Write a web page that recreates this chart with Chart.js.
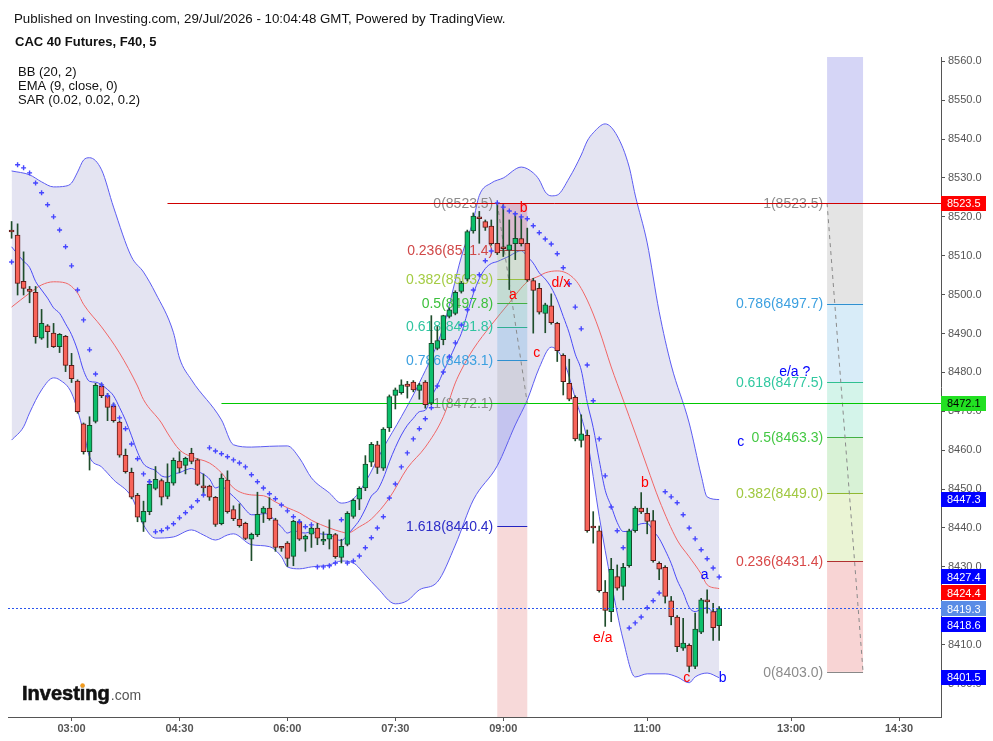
<!DOCTYPE html>
<html>
<head>
<meta charset="utf-8">
<title>CAC 40 Futures, F40, 5</title>
<script src="https://cdn.jsdelivr.net/npm/chart.js"></script>
<style>
  html, body { margin: 0; padding: 0; background: #fff; }
  canvas { display: block; }
</style>
</head>
<body>
<canvas id="chart" width="993" height="741"></canvas>
<script>
// 5-minute candles, first one at 02:10
const firstCandle = '02:10';
const candleStep = 5;

const opens = [
  8516.3, 8515.3, 8503.4, 8501.4, 8500.6, 8488.8, 8492.0, 8490.1, 8486.6, 8489.3,
  8481.8, 8477.8, 8466.8, 8459.6, 8467.4, 8476.4, 8473.9, 8471.3, 8467.2, 8458.7,
  8454.3, 8448.4, 8441.5, 8444.2, 8450.2, 8452.2, 8448.1, 8451.5, 8457.2, 8456.1,
  8459.2, 8457.5, 8450.5, 8450.8, 8447.9, 8441.1, 8452.3, 8444.7, 8442.3, 8441.2,
  8437.1, 8438.3, 8443.8, 8445.1, 8442.1, 8435.0, 8436.1, 8432.7, 8441.5, 8437.1,
  8438.4, 8440.0, 8436.6, 8437.1, 8438.3, 8432.4, 8435.8, 8443.0, 8447.4, 8450.3,
  8456.9, 8461.4, 8455.4, 8465.7, 8474.1, 8474.8, 8477.0, 8477.5, 8475.4, 8477.5,
  8472.1, 8486.2, 8488.4, 8494.4, 8495.2, 8500.8, 8504.0, 8516.4, 8519.7, 8518.8,
  8517.6, 8513.2, 8512.0, 8511.4, 8513.1, 8514.4, 8513.2, 8503.6, 8501.6, 8495.2,
  8497.1, 8492.6, 8484.4, 8477.2, 8473.6, 8462.5, 8463.8, 8440.4, 8439.3, 8423.5,
  8418.5, 8427.5, 8425.0, 8430.3, 8439.3, 8445.1, 8443.8, 8441.9, 8430.9, 8429.9,
  8421.3, 8417.1, 8409.1, 8409.8, 8404.4, 8413.2, 8421.2, 8418.5, 8414.9
];
const highs = [
  8518.8, 8518.2, 8511.0, 8502.1, 8502.1, 8496.2, 8492.3, 8492.6, 8490.0, 8489.5,
  8484.9, 8478.1, 8467.0, 8468.6, 8477.2, 8477.2, 8474.6, 8472.1, 8467.5, 8460.3,
  8455.4, 8448.9, 8446.9, 8452.4, 8455.8, 8452.6, 8456.5, 8458.0, 8459.6, 8458.2,
  8460.5, 8457.8, 8453.9, 8451.0, 8448.1, 8453.9, 8454.7, 8445.7, 8446.2, 8441.5,
  8438.7, 8449.2, 8445.5, 8447.8, 8442.5, 8435.2, 8436.5, 8442.0, 8442.1, 8438.2,
  8440.4, 8441.2, 8439.0, 8442.1, 8438.6, 8437.1, 8444.2, 8447.5, 8450.6, 8458.6,
  8462.0, 8462.3, 8465.8, 8474.2, 8476.0, 8478.1, 8477.7, 8477.9, 8477.2, 8477.9,
  8494.6, 8491.8, 8494.7, 8496.5, 8501.0, 8503.4, 8516.6, 8521.0, 8521.4, 8519.2,
  8519.2, 8523.5, 8523.1, 8519.2, 8521.0, 8520.1, 8517.1, 8504.2, 8502.9, 8497.8,
  8500.2, 8492.9, 8484.8, 8483.4, 8474.0, 8469.1, 8465.2, 8444.2, 8440.5, 8426.5,
  8432.2, 8430.5, 8430.9, 8439.7, 8445.5, 8449.1, 8445.1, 8444.5, 8431.3, 8430.3,
  8422.4, 8417.5, 8416.8, 8410.2, 8418.1, 8421.9, 8424.1, 8420.6, 8419.8
];
const lows = [
  8514.5, 8499.9, 8499.9, 8497.9, 8487.5, 8488.5, 8486.4, 8486.4, 8485.1, 8480.2,
  8477.4, 8469.5, 8459.0, 8454.9, 8467.0, 8473.5, 8467.6, 8467.2, 8458.2, 8454.1,
  8447.5, 8441.6, 8439.1, 8443.4, 8449.8, 8445.9, 8447.5, 8451.0, 8454.2, 8453.9,
  8456.5, 8450.9, 8448.5, 8447.1, 8440.4, 8440.8, 8443.8, 8441.9, 8440.2, 8437.0,
  8431.6, 8437.8, 8441.4, 8442.0, 8434.0, 8434.0, 8430.1, 8430.3, 8436.8, 8434.0,
  8435.0, 8435.7, 8435.7, 8434.6, 8432.2, 8431.0, 8435.4, 8442.5, 8444.7, 8449.6,
  8455.8, 8454.0, 8454.8, 8464.8, 8470.6, 8474.4, 8473.4, 8475.0, 8473.1, 8470.8,
  8471.7, 8485.8, 8487.1, 8494.0, 8494.8, 8500.4, 8503.5, 8515.8, 8513.2, 8516.5,
  8512.7, 8510.3, 8509.8, 8501.3, 8509.0, 8512.5, 8503.4, 8490.1, 8495.0, 8490.2,
  8492.4, 8482.8, 8474.2, 8472.7, 8462.4, 8460.8, 8438.9, 8436.1, 8423.5, 8414.7,
  8415.9, 8424.0, 8421.5, 8429.9, 8438.9, 8443.7, 8438.5, 8431.2, 8426.7, 8420.7,
  8415.1, 8408.2, 8408.5, 8403.0, 8403.8, 8412.8, 8418.1, 8411.1, 8411.1
];
const closes = [
  8516.1, 8502.9, 8501.6, 8500.8, 8489.2, 8492.6, 8490.5, 8486.6, 8489.8, 8481.8,
  8478.4, 8469.9, 8459.6, 8466.4, 8476.7, 8474.0, 8471.0, 8467.6, 8458.7, 8454.5,
  8447.9, 8442.8, 8444.3, 8451.2, 8452.5, 8447.9, 8451.8, 8457.4, 8455.4, 8457.9,
  8457.1, 8451.2, 8450.3, 8447.9, 8440.9, 8452.8, 8444.2, 8442.4, 8440.6, 8437.3,
  8438.4, 8443.5, 8445.1, 8442.4, 8435.0, 8434.8, 8432.2, 8441.7, 8437.1, 8437.9,
  8440.0, 8437.4, 8437.1, 8438.4, 8432.6, 8435.3, 8443.8, 8447.1, 8450.2, 8456.4,
  8461.5, 8455.6, 8465.4, 8473.8, 8475.5, 8476.8, 8476.4, 8475.5, 8476.8, 8471.7,
  8487.5, 8488.2, 8494.6, 8496.1, 8500.6, 8503.0, 8516.2, 8520.2, 8519.5, 8517.3,
  8513.1, 8510.7, 8511.8, 8512.8, 8514.5, 8513.1, 8503.8, 8501.1, 8495.5, 8497.4,
  8492.8, 8485.6, 8477.6, 8473.1, 8462.9, 8464.2, 8439.3, 8440.0, 8423.9, 8418.8,
  8429.4, 8424.5, 8429.9, 8439.3, 8445.1, 8444.1, 8441.7, 8431.6, 8429.4, 8422.4,
  8417.2, 8409.5, 8410.4, 8404.4, 8414.0, 8421.5, 8421.0, 8414.4, 8419.3
];

// SAR (0.02, 0.02, 0.2), one dot per candle
const sar = [
  8508.4, 8533.4, 8532.6, 8531.3, 8528.7, 8526.2, 8523.1, 8520.0, 8516.6, 8512.3,
  8507.4, 8501.2, 8493.5, 8485.8, 8479.6, 8476.8, 8474.0, 8471.6, 8468.3, 8465.5,
  8461.6, 8457.8, 8453.9, 8451.9, 8439.0, 8439.3, 8440.0, 8441.1, 8442.6, 8443.9,
  8445.4, 8447.0, 8448.5, 8460.6, 8459.8, 8459.1, 8458.3, 8457.5, 8456.7, 8455.7,
  8453.7, 8451.9, 8450.3, 8448.8, 8447.5, 8445.9, 8444.4, 8442.9, 8441.6, 8440.3,
  8440.8, 8430.0, 8430.0, 8430.3, 8431.0, 8442.1, 8431.0, 8431.5, 8432.8, 8434.9,
  8437.5, 8440.0, 8442.9, 8447.7, 8451.3, 8455.7, 8459.3, 8462.9, 8465.5, 8468.1,
  8470.9, 8476.5, 8480.1, 8484.0, 8487.6, 8492.2, 8496.1, 8501.2, 8505.1, 8508.7,
  8511.2, 8523.6, 8522.5, 8521.5, 8520.8, 8520.0, 8519.5, 8517.7, 8515.9, 8514.3,
  8513.0, 8510.5, 8506.9, 8502.8, 8496.8, 8491.2, 8481.9, 8472.7, 8462.9, 8453.4,
  8445.4, 8439.3, 8434.9, 8414.3, 8415.6, 8417.1, 8419.5, 8421.3, 8423.3, 8449.3,
  8448.0, 8446.5, 8443.4, 8440.0, 8437.2, 8434.4, 8432.1, 8429.7, 8427.4
];

// EMA (9, close, 0), one value per candle
const ema9 = [
  8512.3, 8510.4, 8508.6, 8507.0, 8503.4, 8501.2, 8499.1, 8496.6, 8495.2, 8492.5,
  8489.7, 8485.7, 8480.5, 8477.7, 8477.5, 8476.8, 8475.6, 8474.0, 8471.0, 8467.7,
  8463.7, 8459.5, 8456.5, 8455.4, 8454.8, 8453.4, 8453.1, 8453.9, 8454.2, 8454.9,
  8455.3, 8454.6, 8453.8, 8452.6, 8450.3, 8450.8, 8449.5, 8448.1, 8446.6, 8444.7,
  8443.4, 8443.4, 8443.7, 8443.4, 8441.7, 8440.3, 8438.7, 8439.3, 8438.9, 8438.7,
  8439.0, 8438.7, 8438.4, 8438.4, 8437.2, 8436.8, 8438.2, 8440.0, 8442.0, 8444.9,
  8448.2, 8449.7, 8452.8, 8457.0, 8460.7, 8463.9, 8466.4, 8468.2, 8469.9, 8470.3,
  8473.7, 8476.6, 8480.2, 8483.4, 8486.8, 8490.0, 8495.2, 8500.2, 8504.1, 8506.7,
  8508.0, 8508.5, 8509.2, 8509.9, 8510.8, 8511.3, 8509.8, 8508.1, 8505.6, 8504.0,
  8501.8, 8498.6, 8494.4, 8490.1, 8484.7, 8480.6, 8472.3, 8465.8, 8457.4, 8449.7,
  8445.6, 8441.4, 8439.1, 8439.1, 8440.3, 8441.1, 8441.2, 8439.3, 8437.3, 8434.3,
  8430.9, 8426.6, 8423.4, 8419.6, 8418.5, 8419.1, 8419.5, 8418.5, 8418.6
];

// BB (20, 2) read at sample candles (candle index, value)
const bbUpperAt = [0, 3, 5, 7, 9, 10, 11, 12, 13, 15, 17, 20, 22, 24, 27, 28, 30, 35, 37, 40,
  43, 46, 48, 50, 53, 55, 57, 59, 62, 65, 68, 72, 75, 77, 78, 80, 82, 85, 87, 88,
  89, 90, 91, 93, 95, 96, 97, 99, 101, 103, 104, 106, 108, 110, 113, 115, 116, 118];
const bbUpper = [8531.8, 8530.8, 8529.0, 8527.7, 8527.9, 8528.7, 8531.5, 8534.6, 8535.2, 8532.1,
  8522.5, 8509.7, 8505.8, 8500.4, 8490.2, 8483.7, 8478.1, 8467.8, 8461.4, 8460.8,
  8461.0, 8461.1, 8458.0, 8452.9, 8449.0, 8446.4, 8447.5, 8451.8, 8460.6, 8468.6,
  8477.3, 8491.7, 8509.7, 8519.2, 8525.5, 8528.7, 8530.0, 8532.8, 8531.3, 8529.5,
  8526.4, 8525.4, 8525.6, 8530.0, 8535.9, 8539.5, 8541.6, 8543.9, 8540.8, 8532.8,
  8525.6, 8513.3, 8495.6, 8481.9, 8467.0, 8453.6, 8448.0, 8447.3];

const bbBasisAt = [0, 3, 5, 7, 9, 11, 12, 15, 18, 21, 22, 25, 26, 28, 30, 33, 35, 37, 40, 42,
  44, 46, 48, 50, 53, 55, 56, 58, 60, 63, 66, 69, 72, 74, 75, 77, 80, 83, 86, 88,
  89, 91, 94, 96, 98, 100, 102, 104, 106, 108, 111, 113, 115, 116, 118];
const bbBasis = [8496.8, 8500.4, 8502.5, 8503.3, 8503.0, 8500.4, 8497.5, 8491.7, 8485.0, 8476.5,
  8473.0, 8467.0, 8464.4, 8460.1, 8458.3, 8456.7, 8454.2, 8450.3, 8448.5, 8448.3,
  8446.7, 8445.2, 8443.9, 8442.0, 8440.0, 8439.0, 8438.7, 8440.3, 8442.3, 8447.7,
  8455.4, 8460.8, 8468.6, 8477.3, 8480.6, 8486.0, 8492.2, 8497.9, 8503.3, 8504.8,
  8505.6, 8506.1, 8503.8, 8498.6, 8490.9, 8481.4, 8472.9, 8464.4, 8455.7, 8447.2,
  8436.9, 8432.6, 8428.2, 8425.4, 8424.4];

const bbLowerAt = [0, 2, 3, 5, 7, 8, 10, 12, 13, 15, 17, 20, 22, 24, 27, 30, 32, 34, 36, 37,
  40, 43, 45, 46, 48, 50, 53, 55, 57, 59, 61, 64, 66, 68, 71, 74, 77, 81, 84, 86,
  88, 90, 92, 94, 96, 98, 100, 102, 104, 106, 109, 111, 113, 114, 116, 118];
const bbLower = [8462.6, 8466.0, 8469.6, 8475.5, 8478.6, 8478.1, 8474.7, 8464.7, 8458.3, 8455.7,
  8452.4, 8448.0, 8440.8, 8437.4, 8437.7, 8439.5, 8438.2, 8436.9, 8438.2, 8438.5,
  8435.7, 8435.2, 8432.6, 8430.0, 8429.5, 8430.0, 8430.5, 8431.5, 8431.0, 8427.9,
  8424.6, 8420.5, 8421.3, 8424.1, 8426.1, 8435.6, 8447.2, 8456.0, 8466.5, 8472.9,
  8481.2, 8486.5, 8483.2, 8473.4, 8462.6, 8443.0, 8426.0, 8411.2, 8401.7, 8402.5,
  8402.5, 8401.7, 8400.2, 8401.7, 8402.7, 8401.5];

// axes
const xTickLabels = ['03:00', '04:30', '06:00', '07:30', '09:00', '11:00', '13:00', '14:30'];
const xRange = ['02:07', '15:05'];
const yRange = [8391.4, 8561.1];
const yStep = 10;

// fibonacci tools
const fibLeftRatios = ['0', '0.236', '0.382', '0.5', '0.618', '0.786', '1', '1.618'];
const fibLeftLevels = [8523.5, 8511.4, 8503.9, 8497.8, 8491.8, 8483.1, 8472.1, 8440.4];
const fibLeftSpan = ['08:55', '09:20'];
const fibRightRatios = ['1', '0.786', '0.618', '0.5', '0.382', '0.236', '0'];
const fibRightLevels = [8523.5, 8497.7, 8477.5, 8463.3, 8449.0, 8431.4, 8403.0];
const fibRightSpan = ['13:30', '14:00'];

// horizontal lines and price scale markers
const hLineValues = [8523.5, 8472.1];
const hLineFrom = ['04:20', '05:05'];
const lastPrice = 8419.3;
const markerValues = [8523.5, 8472.1, 8447.3, 8427.4, 8424.4, 8419.3, 8418.6, 8401.5];

// wave labels
const waveTexts = ['b', 'a', 'd/x', 'c', 'b', 'e/a', 'c', 'a', 'b', 'e/a ?', 'c'];
const waveTimes = ['09:17', '09:08', '09:48', '09:28', '10:58', '10:23', '11:33', '11:48', '12:03', '13:03', '12:18'];
const wavePrices = [8522.3, 8499.9, 8503.0, 8485.0, 8451.6, 8411.7, 8401.5, 8427.9, 8401.5, 8480.1, 8462.1];

// ---- styles ----
const FONT = '"Liberation Sans", Arial, sans-serif';
const upFill = '#0cbf6c', upEdge = '#17492a';
const downFill = '#f8645a', downEdge = '#5e1a18';
const wickColor = '#1e4d2b';
const fibLeftFill = ['rgba(190,70,110,0.26)', 'rgba(150,200,100,0.22)', 'rgba(80,190,100,0.22)',
  'rgba(60,180,170,0.22)', 'rgba(80,160,220,0.25)', 'rgba(150,150,160,0.25)',
  'rgba(100,100,230,0.25)', 'rgba(220,80,80,0.22)'];
const fibLeftLine = ['#888888', '#b04040', '#99c040', '#44b044', '#30b090', '#3090d0', '#888888', '#2424c0'];
const fibLeftText = ['#8c8c8c', '#d04848', '#a4cc44', '#3cc03c', '#30c4a0', '#3ca0e0', '#8c8c8c', '#2c2cc8'];
const fibRightFill = ['rgba(100,100,220,0.27)', 'rgba(120,120,120,0.2)', 'rgba(60,160,220,0.2)',
  'rgba(40,200,150,0.2)', 'rgba(60,190,50,0.2)', 'rgba(150,200,40,0.2)', 'rgba(220,40,40,0.2)'];
const fibRightLine = ['#888888', '#3090d0', '#30c090', '#44b044', '#90b830', '#b03030', '#888888'];
const fibRightText = ['#8c8c8c', '#3ca0e0', '#30c8a0', '#44c844', '#a0c840', '#d84848', '#8c8c8c'];
const hLineColors = ['#d00000', '#00c800'];
const markerBg = ['#ff0000', '#22e022', '#0000ff', '#0000ff', '#ff0000', '#5a8ce6', '#0000ff', '#0000ff'];
const markerFg = ['#fff', '#000', '#fff', '#fff', '#fff', '#fff', '#fff', '#fff'];
const waveColors = ['#f00', '#f00', '#f00', '#f00', '#f00', '#f00', '#f00', '#00f', '#00f', '#00f', '#00f'];

// ---- helpers ----
const toMin = s => { const [h, m] = s.split(':').map(Number); return h * 60 + m; };
const fmtMin = v => String(Math.floor(v / 60)).padStart(2, '0') + ':' + String(Math.round(v % 60)).padStart(2, '0');

const times = opens.map((_, i) => toMin(firstCandle) + candleStep * i);
const isUp = opens.map((o, i) => closes[i] >= o);
const sampled = (at, vals) => at.map((i, k) => ({ x: times[i], y: vals[k] }));

function drawFib(ctx, x, y, span, levels, ratios, edges, fills, lineColors, textColors) {
  const x0 = x.getPixelForValue(toMin(span[0]));
  const x1 = x.getPixelForValue(toMin(span[1]));
  edges.forEach((v, k) => {
    if (k === edges.length - 1) return;
    const a = y.getPixelForValue(v), b = y.getPixelForValue(edges[k + 1]);
    ctx.fillStyle = fills[k];
    ctx.fillRect(x0, Math.min(a, b), x1 - x0, Math.abs(b - a));
  });
  ctx.lineWidth = 1;
  levels.forEach((v, k) => {
    const py = Math.round(y.getPixelForValue(v)) + 0.5;
    ctx.strokeStyle = lineColors[k];
    ctx.beginPath(); ctx.moveTo(x0, py); ctx.lineTo(x1, py); ctx.stroke();
  });
  // diagonal trend line of the tool (from level 0/1 to the opposite end)
  const endLevel = ratios.indexOf(ratios[0] === '0' ? '1' : '0');
  ctx.save();
  ctx.strokeStyle = '#8a8a8a';
  ctx.setLineDash([4, 4]);
  ctx.beginPath();
  ctx.moveTo(x0, y.getPixelForValue(levels[0]));
  ctx.lineTo(x1, y.getPixelForValue(levels[endLevel]));
  ctx.stroke();
  ctx.restore();
  ctx.font = '14px ' + FONT;
  ctx.textAlign = 'right';
  ctx.textBaseline = 'middle';
  levels.forEach((v, k) => {
    ctx.fillStyle = textColors[k];
    ctx.fillText(ratios[k] + '(' + v.toFixed(1) + ')', x0 - 4, y.getPixelForValue(v) + 1);
  });
}

const overlays = {
  id: 'overlays',
  beforeDatasetDraw(chart, args) {
    if (args.index !== 4) return;
    const { ctx, chartArea: a, scales: { x, y } } = chart;
    ctx.save();
    ctx.beginPath();
    ctx.rect(a.left, a.top, a.right - a.left, a.bottom - a.top);
    ctx.clip();
    drawFib(ctx, x, y, fibLeftSpan, fibLeftLevels, fibLeftRatios,
      [...fibLeftLevels, y.min], fibLeftFill, fibLeftLine, fibLeftText);
    drawFib(ctx, x, y, fibRightSpan, fibRightLevels, fibRightRatios,
      [y.max, ...fibRightLevels], fibRightFill, fibRightLine, fibRightText);
    // horizontal lines
    ctx.lineWidth = 1;
    hLineValues.forEach((v, k) => {
      const py = Math.round(y.getPixelForValue(v)) + 0.5;
      ctx.strokeStyle = hLineColors[k];
      ctx.beginPath();
      ctx.moveTo(x.getPixelForValue(toMin(hLineFrom[k])), py);
      ctx.lineTo(a.right, py);
      ctx.stroke();
    });
    ctx.restore();
  },
  afterDatasetsDraw(chart) {
    const { ctx, chartArea: a, scales: { x, y } } = chart;
    ctx.save();
    // last price line
    const py = Math.round(y.getPixelForValue(lastPrice)) + 0.5;
    ctx.strokeStyle = '#2a55ee';
    ctx.lineWidth = 1;
    ctx.setLineDash([2, 2]);
    ctx.beginPath(); ctx.moveTo(a.left, py); ctx.lineTo(a.right, py); ctx.stroke();
    ctx.setLineDash([]);
    // wave labels
    ctx.font = '14px ' + FONT;
    ctx.textAlign = 'center';
    ctx.textBaseline = 'middle';
    waveTexts.forEach((t, k) => {
      ctx.fillStyle = waveColors[k];
      ctx.fillText(t, x.getPixelForValue(toMin(waveTimes[k])), y.getPixelForValue(wavePrices[k]));
    });
    ctx.restore();
  },
  afterDraw(chart) {
    const { ctx, chartArea: a, scales: { y } } = chart;
    ctx.save();
    // price scale markers, pushed apart when they overlap
    const h = 15;
    let prev = -Infinity;
    ctx.font = '11px ' + FONT;
    ctx.textAlign = 'left';
    ctx.textBaseline = 'middle';
    markerValues.forEach((v, k) => {
      let cy = y.getPixelForValue(v);
      if (cy < prev + h + 1) cy = prev + h + 1;
      prev = cy;
      ctx.fillStyle = markerBg[k];
      ctx.fillRect(a.right, Math.round(cy - h / 2), 45, h);
      ctx.fillStyle = markerFg[k];
      ctx.fillText(v.toFixed(1), a.right + 6, cy + 0.5);
    });
    // header
    ctx.fillStyle = '#111';
    ctx.textBaseline = 'alphabetic';
    ctx.font = '13.3px ' + FONT;
    ctx.fillText('Published on Investing.com, 29/Jul/2026 - 10:04:48 GMT, Powered by TradingView.', 14, 23);
    ctx.font = 'bold 13px ' + FONT;
    ctx.fillText('CAC 40 Futures, F40, 5', 15, 46);
    ctx.font = '13px ' + FONT;
    ctx.fillText('BB (20, 2)', 18, 76);
    ctx.fillText('EMA (9, close, 0)', 18, 90);
    ctx.fillText('SAR (0.02, 0.02, 0.2)', 18, 104);
    // logo
    ctx.font = 'bold 20px ' + FONT;
    ctx.fillStyle = '#111';
    ctx.strokeStyle = '#111';
    ctx.lineWidth = 0.6;
    ctx.fillText('Investing', 22, 700);
    ctx.strokeText('Investing', 22, 700);
    const w = ctx.measureText('Investing').width;
    const wi = ctx.measureText('Invest').width + ctx.measureText('i').width / 2;
    ctx.fillStyle = '#f29b1d';
    ctx.beginPath(); ctx.arc(22 + wi, 685.5, 2.2, 0, Math.PI * 2); ctx.fill();
    ctx.font = '14px ' + FONT;
    ctx.fillStyle = '#555';
    ctx.fillText('.com', 23 + w, 700);
    ctx.restore();
  }
};

Chart.defaults.font.family = FONT;

new Chart(document.getElementById('chart'), {
  type: 'bar',
  data: {
    datasets: [
      {
        type: 'line', label: 'BB upper', data: sampled(bbUpperAt, bbUpper),
        borderColor: '#5c5cf2', borderWidth: 1, pointRadius: 0,
        cubicInterpolationMode: 'monotone', fill: '+1',
        backgroundColor: 'rgba(190,190,225,0.42)', order: 7
      },
      {
        type: 'line', label: 'BB lower', data: sampled(bbLowerAt, bbLower),
        borderColor: '#5c5cf2', borderWidth: 1, pointRadius: 0,
        cubicInterpolationMode: 'monotone', fill: false, order: 6
      },
      {
        type: 'line', label: 'BB basis', data: sampled(bbBasisAt, bbBasis),
        borderColor: '#f06666', borderWidth: 1, pointRadius: 0,
        cubicInterpolationMode: 'monotone', fill: false, order: 5
      },
      {
        type: 'line', label: 'EMA 9', data: times.map((t, i) => ({ x: t, y: ema9[i] })),
        borderColor: '#4a4af6', borderWidth: 1, pointRadius: 0,
        cubicInterpolationMode: 'monotone', fill: false, order: 4
      },
      {
        type: 'bar', label: 'wicks', data: times.map((t, i) => ({ x: t, y: [lows[i], highs[i]] })),
        backgroundColor: wickColor, borderWidth: 0, barThickness: 1, grouped: false, order: 3
      },
      {
        type: 'bar', label: 'bodies', data: times.map((t, i) => ({ x: t, y: [opens[i], closes[i]] })),
        backgroundColor: isUp.map(u => u ? upFill : downFill),
        borderColor: isUp.map(u => u ? upEdge : downEdge),
        borderWidth: 1, borderSkipped: false, barThickness: 5, minBarLength: 2,
        grouped: false, order: 2
      },
      {
        type: 'line', label: 'SAR', data: times.map((t, i) => ({ x: t, y: sar[i] })),
        showLine: false, pointStyle: 'cross', pointRadius: 2.5,
        pointBorderColor: '#4646ff', pointBorderWidth: 1.4, order: 1
      }
    ]
  },
  options: {
    responsive: false,
    animation: false,
    devicePixelRatio: 1,
    layout: { padding: { left: 8, top: 57, right: 0, bottom: 0 } },
    plugins: { legend: { display: false }, tooltip: { enabled: false } },
    scales: {
      x: {
        type: 'linear', min: toMin(xRange[0]), max: toMin(xRange[1]), offset: false,
        grid: { drawOnChartArea: false, offset: false, tickLength: 4, color: '#555' },
        border: { color: '#555' },
        afterBuildTicks: s => { s.ticks = xTickLabels.map(t => ({ value: toMin(t) })); },
        afterFit: s => { s.height = 24; },
        ticks: {
          autoSkip: false, maxRotation: 0, padding: 1, color: '#555',
          font: { size: 11, weight: 'bold' }, callback: v => fmtMin(v)
        }
      },
      y: {
        type: 'linear', position: 'right', min: yRange[0], max: yRange[1], beginAtZero: false,
        grid: { drawOnChartArea: false, tickLength: 4, color: '#555' },
        border: { color: '#555' },
        afterFit: s => { s.width = 52; },
        ticks: {
          stepSize: yStep, includeBounds: false, padding: 3, color: '#555',
          font: { size: 11 }, callback: v => v.toFixed(1)
        }
      }
    }
  },
  plugins: [overlays]
});
</script>
</body>
</html>
